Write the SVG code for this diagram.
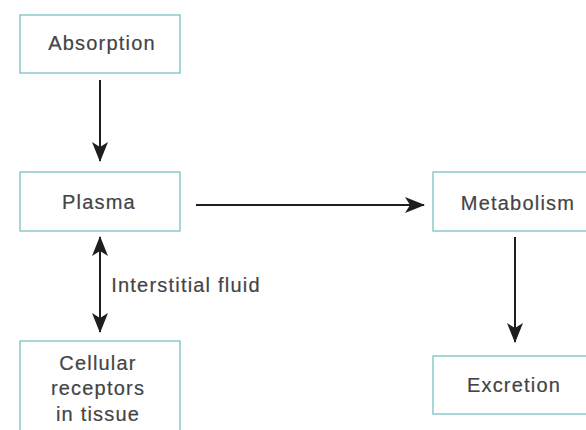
<svg xmlns="http://www.w3.org/2000/svg" width="586" height="430" viewBox="0 0 586 430">
<defs>
<marker id="ah" markerWidth="20" markerHeight="16" viewBox="0 0 20 16" refX="19" refY="8" orient="auto-start-reverse" markerUnits="userSpaceOnUse">
<path d="M0,0 L20,8 L0,16 L5,8 Z" fill="#1e1e1e"/>
</marker>
<style>
.box{fill:#ffffff;stroke:#8ccacc;stroke-width:1.5}
.t{font-family:"Liberation Sans",Arial,sans-serif;font-size:20px;letter-spacing:1.2px;fill:#444444;stroke:#444444;stroke-width:0.2;text-anchor:middle}
.l{fill:none;stroke:#1e1e1e;stroke-width:2}
</style>
</defs>
<rect width="586" height="430" fill="#ffffff"/>
<g id="absorption"><rect class="box" x="20" y="15" width="160" height="58"/><text class="t" x="102" y="50">Absorption</text></g>
<g id="plasma"><rect class="box" x="20" y="172" width="160" height="59"/><text class="t" x="99" y="209">Plasma</text></g>
<g id="metabolism"><rect class="box" x="433" y="172" width="160" height="59"/><text class="t" x="518" y="210">Metabolism</text></g>
<g id="cellular"><rect class="box" x="20" y="341" width="160" height="100"/><text class="t" x="98" y="370">Cellular</text><text class="t" x="98" y="395">receptors</text><text class="t" x="98" y="421">in tissue</text></g>
<g id="excretion"><rect class="box" x="433" y="356" width="160" height="58"/><text class="t" x="514" y="392">Excretion</text></g>
<g id="connectors">
<line class="l" x1="100" y1="80" x2="100" y2="161" marker-end="url(#ah)"/>
<line class="l" x1="196" y1="205" x2="424" y2="205" marker-end="url(#ah)"/>
<line class="l" x1="100" y1="237" x2="100" y2="332" marker-start="url(#ah)" marker-end="url(#ah)"/>
<line class="l" x1="515" y1="237" x2="515" y2="342" marker-end="url(#ah)"/>
<text class="t" x="186" y="292">Interstitial fluid</text>
</g>
</svg>
